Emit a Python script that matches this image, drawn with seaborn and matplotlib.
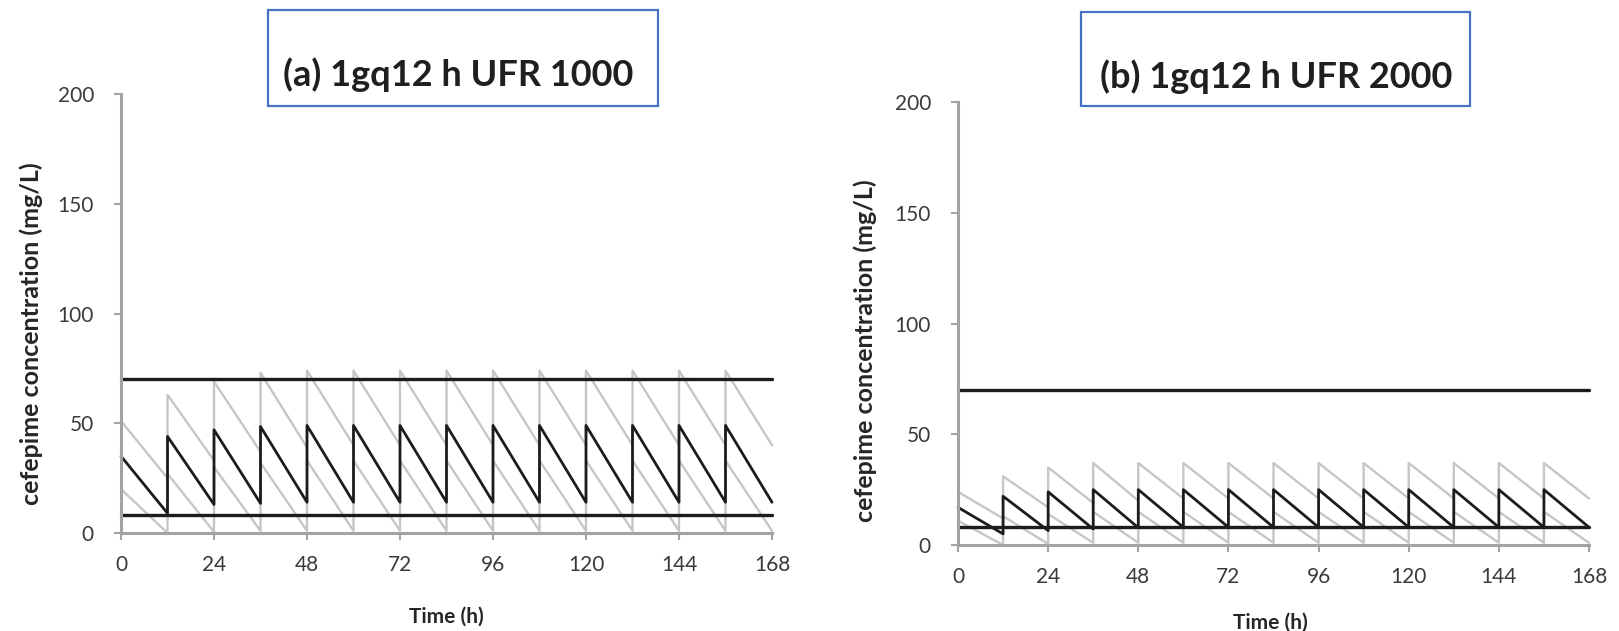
import matplotlib
matplotlib.use("Agg")
import matplotlib.pyplot as plt
import pandas as pd
import seaborn as sns
from matplotlib.patches import Rectangle

# ---- dosing schedule -------------------------------------------------------
DOSE_TIMES = [0, 12, 24, 36, 48, 60, 72, 84, 96, 108, 120, 132, 144, 156]
DOSE_INTERVAL = 12
X_TICKS = [0, 24, 48, 72, 96, 120, 144, 168]
Y_TICKS = [0, 50, 100, 150, 200]

# reference concentrations (mg/L)
UPPER_LIMIT = 70
LOWER_LIMIT = 8

# ---- (a) 1 g q12 h, UFR 1000 ---------------------------------------------
A_MEDIAN_PEAK = [35, 44, 47, 48.5, 49, 49, 49, 49, 49, 49, 49, 49, 49, 49]
A_MEDIAN_TROUGH = [9, 13, 13.5, 14, 14, 14, 14, 14, 14, 14, 14, 14, 14, 14]
A_HIGH_PEAK = [51, 63, 69, 73, 74, 74, 74, 74, 74, 74, 74, 74, 74, 74]
A_HIGH_TROUGH = [25, 33, 37, 39, 40, 40, 40, 40, 40, 40, 40, 40, 40, 40]
A_LOW_PEAK = [20, 27, 30, 32, 33, 33, 33, 33, 33, 33, 33, 33, 33, 33]
A_LOW_TROUGH = [0, 0.5, 1, 1, 1, 1, 1, 1, 1, 1, 1, 1, 1, 1]

# ---- (b) 1 g q12 h, UFR 2000 ---------------------------------------------
B_MEDIAN_PEAK = [17, 22, 24, 25, 25, 25, 25, 25, 25, 25, 25, 25, 25, 25]
B_MEDIAN_TROUGH = [5, 6.5, 7.2, 7.8, 8, 8, 8, 8, 8, 8, 8, 8, 8, 8]
B_HIGH_PEAK = [24, 31, 35, 37, 37, 37, 37, 37, 37, 37, 37, 37, 37, 37]
B_HIGH_TROUGH = [12, 17, 19, 20, 21, 21, 21, 21, 21, 21, 21, 21, 21, 21]
B_LOW_PEAK = [11, 13, 14, 15, 15, 15, 15, 15, 15, 15, 15, 15, 15, 15]
B_LOW_TROUGH = [0, 0.5, 1, 1, 1, 1, 1, 1, 1, 1, 1, 1, 1, 1]

TITLES = ["(a) 1gq12 h UFR 1000", "(b) 1gq12 h UFR 2000"]
Y_LABEL = "cefepime concentration (mg/L)"
X_LABEL = "Time (h)"

sns.set_theme(style="white")
plt.rcParams["font.family"] = ["Lato", "DejaVu Sans"]

W, H = 1619, 631
fig = plt.figure(figsize=(W / 100, H / 100), dpi=100)

AXIS_GREY = "#a3a3a3"
TICK_TEXT = "#3a3a3a"
LABEL_TEXT = "#262626"
BOX_BLUE = "#4472c4"


def sawtooth(peaks, troughs):
    """Peak at each dose, linear decline to the trough just before the next dose."""
    times, conc = [], []
    for t, p, tr in zip(DOSE_TIMES, peaks, troughs):
        times += [t, t + DOSE_INTERVAL]
        conc += [p, tr]
    return pd.DataFrame({"time": times, "conc": conc})


def px_axes(left, right, y0, y200):
    """Axes rectangle from pixel positions of x=0, x=168, y=0 and y=200."""
    return fig.add_axes([left / W, (H - y0) / H, (right - left) / W, (y0 - y200) / H])


panels = [
    dict(rect=(121, 772, 533, 94),
         series=[(A_HIGH_PEAK, A_HIGH_TROUGH), (A_LOW_PEAK, A_LOW_TROUGH)],
         median=(A_MEDIAN_PEAK, A_MEDIAN_TROUGH),
         box=(268, 10, 658, 106), text_xy=(458, 75),
         ylab=(31, 334), xlab=(446, 617)),
    dict(rect=(958, 1589, 545, 102),
         series=[(B_HIGH_PEAK, B_HIGH_TROUGH), (B_LOW_PEAK, B_LOW_TROUGH)],
         median=(B_MEDIAN_PEAK, B_MEDIAN_TROUGH),
         box=(1081, 12, 1470, 106), text_xy=(1276, 77),
         ylab=(865, 351), xlab=(1270, 623)),
]

end_time = DOSE_TIMES[-1] + DOSE_INTERVAL

for title, p in zip(TITLES, panels):
    left, right, y0, y200 = p["rect"]
    ax = px_axes(left, right, y0, y200)

    for peaks, troughs in p["series"]:
        sns.lineplot(data=sawtooth(peaks, troughs), x="time", y="conc",
                     estimator=None, sort=False, color="#c6c6c6", lw=1.7,
                     legend=False, ax=ax, clip_on=False)
    sns.lineplot(data=sawtooth(*p["median"]), x="time", y="conc",
                 estimator=None, sort=False, color="#1c1c1c", lw=2.0,
                 legend=False, ax=ax, clip_on=False)
    for level in (UPPER_LIMIT, LOWER_LIMIT):
        sns.lineplot(x=[0, end_time], y=[level, level], color="#1c1c1c",
                     lw=2.4, ax=ax, clip_on=False)

    ax.set_xlim(0, 168)
    ax.set_ylim(0, 200)
    ax.set_xticks(X_TICKS)
    ax.set_yticks(Y_TICKS)
    for side in ("top", "right"):
        ax.spines[side].set_visible(False)
    for side in ("left", "bottom"):
        ax.spines[side].set_color(AXIS_GREY)
        ax.spines[side].set_linewidth(2.2)
    ax.tick_params(axis="both", which="major", direction="out", length=5,
                   width=1.5, color=AXIS_GREY, labelsize=15,
                   labelcolor=TICK_TEXT, bottom=True, left=True)
    ax.tick_params(axis="x", pad=11)
    ax.tick_params(axis="y", pad=14.5)

    ax.set_xlabel(X_LABEL, fontsize=15, fontweight="bold", color=LABEL_TEXT)
    ax.set_ylabel(Y_LABEL, fontsize=18, fontweight="bold", color=LABEL_TEXT)
    ax.xaxis.label.set_va("center")
    ax.yaxis.label.set_va("center")
    xl_x, xl_y = p["xlab"]
    yl_x, yl_y = p["ylab"]
    ax.xaxis.set_label_coords((xl_x - left) / (right - left), (y0 - xl_y) / (y0 - y200))
    ax.yaxis.set_label_coords((yl_x - left) / (right - left), (y0 - yl_y) / (y0 - y200))

    bx0, by0, bx1, by1 = p["box"]
    fig.patches.append(Rectangle((bx0 / W, (H - by1) / H), (bx1 - bx0) / W,
                                 (by1 - by0) / H, transform=fig.transFigure,
                                 fill=False, edgecolor=BOX_BLUE, lw=1.6))
    tx, ty = p["text_xy"]
    fig.text(tx / W, (H - ty) / H, title, ha="center", va="center",
             fontsize=26, fontweight="bold", color="#1f1f1f")

fig.savefig("out.png", dpi=100, facecolor="white")
